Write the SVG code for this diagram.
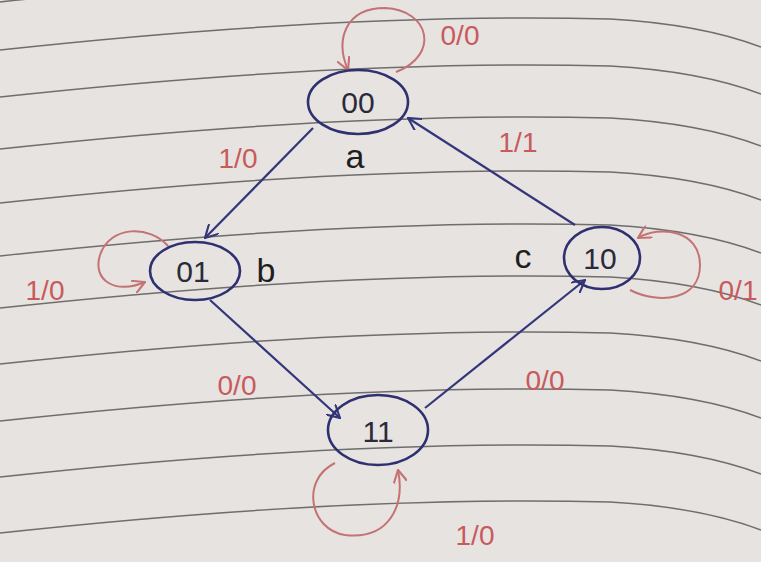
<svg xmlns="http://www.w3.org/2000/svg" width="761" height="562" viewBox="0 0 761 562">
<defs>
<style>
.bg{fill:#e6e3e1}
.rule{stroke:#3c3c3c;stroke-width:1.5;fill:none;opacity:.7}
.node{fill:none;stroke:#2e3070;stroke-width:2.6}
.st{font-family:"Liberation Sans",sans-serif;font-size:30px;fill:#2a2a3a;text-anchor:middle}
.nm{font-family:"Liberation Sans",sans-serif;font-size:34px;fill:#1e1e1e;text-anchor:middle}
.edge{fill:none;stroke:#34357a;stroke-width:2.2}
.loop{fill:none;stroke:#c47274;stroke-width:2}
.lbl{font-family:"Liberation Sans",sans-serif;font-size:28px;fill:#c85a5c;text-anchor:middle}
</style>
<path id="rl" class="rule" d="M0,0 Q350,-38 610,-31 Q700,-26 761,-3"/>
<marker id="ab" viewBox="0 0 12 12" refX="11" refY="6" markerWidth="14" markerHeight="14" markerUnits="userSpaceOnUse" orient="auto">
<path d="M0,0 L11,6 L0,12" fill="none" stroke="#34357a" stroke-width="1.8"/>
</marker>
<marker id="ar" viewBox="0 0 12 12" refX="11" refY="6" markerWidth="14" markerHeight="14" markerUnits="userSpaceOnUse" orient="auto">
<path d="M0,0 L11,6 L0,12" fill="none" stroke="#c47274" stroke-width="1.8"/>
</marker>
</defs>
<rect class="bg" x="0" y="0" width="761" height="562"/>
<g id="paper-lines">
<use href="#rl" y="2"/>
<use href="#rl" y="50"/>
<use href="#rl" y="97"/>
<use href="#rl" y="149"/>
<use href="#rl" y="203"/>
<use href="#rl" y="256"/>
<use href="#rl" y="308"/>
<use href="#rl" y="364"/>
<use href="#rl" y="421"/>
<use href="#rl" y="477"/>
<use href="#rl" y="533"/>
</g>
<g id="connectors">
<path class="edge" d="M313,128 L205,238" marker-end="url(#ab)"/>
<path class="edge" d="M210,300 L340,418" marker-end="url(#ab)"/>
<path class="edge" d="M425,408 L585,280" marker-end="url(#ab)"/>
<path class="edge" d="M575,225 L408,118" marker-end="url(#ab)"/>
<path class="loop" d="M396,72 C440,55 430,10 385,8 C345,8 335,40 348,70" marker-end="url(#ar)"/>
<path class="loop" d="M168,246 C150,225 110,225 100,255 C92,280 115,295 145,282" marker-end="url(#ar)"/>
<path class="loop" d="M630,290 C660,305 700,300 700,265 C700,230 660,225 638,238" marker-end="url(#ar)"/>
<path class="loop" d="M335,463 C300,480 310,530 345,535 C390,540 405,505 398,470" marker-end="url(#ar)"/>
<text class="lbl" x="460" y="45">0/0</text>
<text class="lbl" x="238" y="168">1/0</text>
<text class="lbl" x="518" y="152">1/1</text>
<text class="lbl" x="45" y="300">1/0</text>
<text class="lbl" x="738" y="300">0/1</text>
<text class="lbl" x="237" y="395">0/0</text>
<text class="lbl" x="545" y="390">0/0</text>
<text class="lbl" x="475" y="545">1/0</text>
</g>
<g id="a">
<ellipse class="node" cx="358" cy="102" rx="50" ry="32"/>
<text class="st" x="358" y="113">00</text>
<text class="nm" x="355" y="168">a</text>
</g>
<g id="b">
<ellipse class="node" cx="195" cy="271" rx="45" ry="29"/>
<text class="st" x="193" y="282">01</text>
<text class="nm" x="266" y="282">b</text>
</g>
<g id="c">
<ellipse class="node" cx="602" cy="258" rx="38" ry="31"/>
<text class="st" x="600" y="269">10</text>
<text class="nm" x="523" y="268">c</text>
</g>
<g id="d">
<ellipse class="node" cx="378" cy="430" rx="50" ry="35"/>
<text class="st" x="378" y="442">11</text>
</g>
</svg>
